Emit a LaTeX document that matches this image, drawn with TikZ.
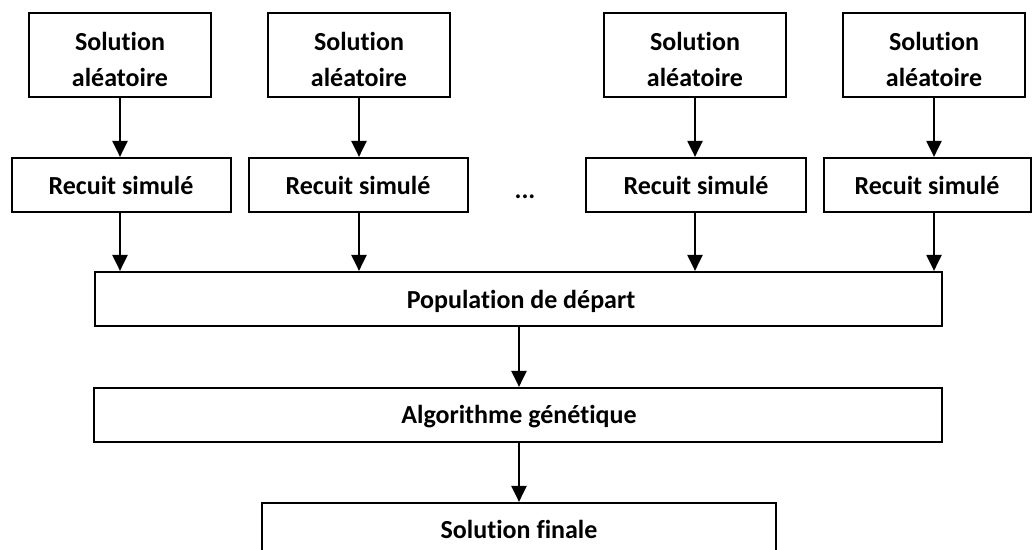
\documentclass[tikz,border=0pt]{standalone}
\usepackage{fontspec}
\setmainfont{Carlito}[Ligatures=NoCommon]
\usetikzlibrary{arrows.meta}
\begin{document}
\begin{tikzpicture}[x=1pt,y=-1pt,
  box/.style={draw, line width=2.2pt, inner sep=0pt},
  lbl/.style={inner sep=0pt, anchor=base, font=\fontsize{26}{36}\selectfont\bfseries},
  arr/.style={line width=2.2pt, -{Triangle[length=16pt,width=15pt]}}]
\useasboundingbox (0,0) rectangle (1032,549);
\clip (0,0) rectangle (1032,549);
\fill[white] (0,0) rectangle (1032,549);
% random solutions
\node[box, minimum width=182pt, minimum height=84pt] (sa1) at (120,55) {};
\node[box, minimum width=182pt, minimum height=84pt] (sa2) at (359,55) {};
\node[box, minimum width=182pt, minimum height=84pt] (sa3) at (695,55) {};
\node[box, minimum width=182pt, minimum height=84pt] (sa4) at (934,55) {};
\foreach \n/\x in {1/120,2/359,3/695,4/934}{
  \node[lbl] (sa\n a) at (\x,50) {Solution};
  \node[lbl] (sa\n b) at (\x,86) {aléatoire};
}
% simulated annealing
\node[box, minimum width=219pt, minimum height=54pt] (rs1) at (121.5,185) {};
\node[box, minimum width=219pt, minimum height=54pt] (rs2) at (358.5,185) {};
\node[box, minimum width=220pt, minimum height=54pt] (rs3) at (696,185) {};
\node[box, minimum width=207pt, minimum height=54pt] (rs4) at (927.5,185) {};
\foreach \n/\x in {1/121,2/358,3/696,4/927}{
  \node[lbl] (rs\n t) at (\x,194) {Recuit simulé};
}
\node[lbl] (dots) at (525,198) {...};
% population
\node[box, minimum width=847pt, minimum height=54pt] (pop) at (518.5,299) {};
\node[lbl] (popt) at (521,308) {Population de départ};
\node[box, minimum width=848pt, minimum height=54pt] (ag) at (518,415) {};
\node[lbl] (agt) at (519,423) {Algorithme génétique};
\node[box, minimum width=514pt, minimum height=60pt] (sf) at (519,533) {};
\node[lbl] (sft) at (519,538) {Solution finale};
% arrows
\foreach \n in {1,2,3,4}{
  \draw[arr] (sa\n.south) -- (sa\n.south |- rs\n.north);
  \draw[arr] (sa\n.south |- rs\n.south) -- (sa\n.south |- pop.north);
}
\coordinate (p1) at (519,326);
\draw[arr] (pop.south -| p1) -- (p1 |- ag.north);
\draw[arr] (ag.south -| p1) -- (p1 |- sf.north);
\end{tikzpicture}
\end{document}
